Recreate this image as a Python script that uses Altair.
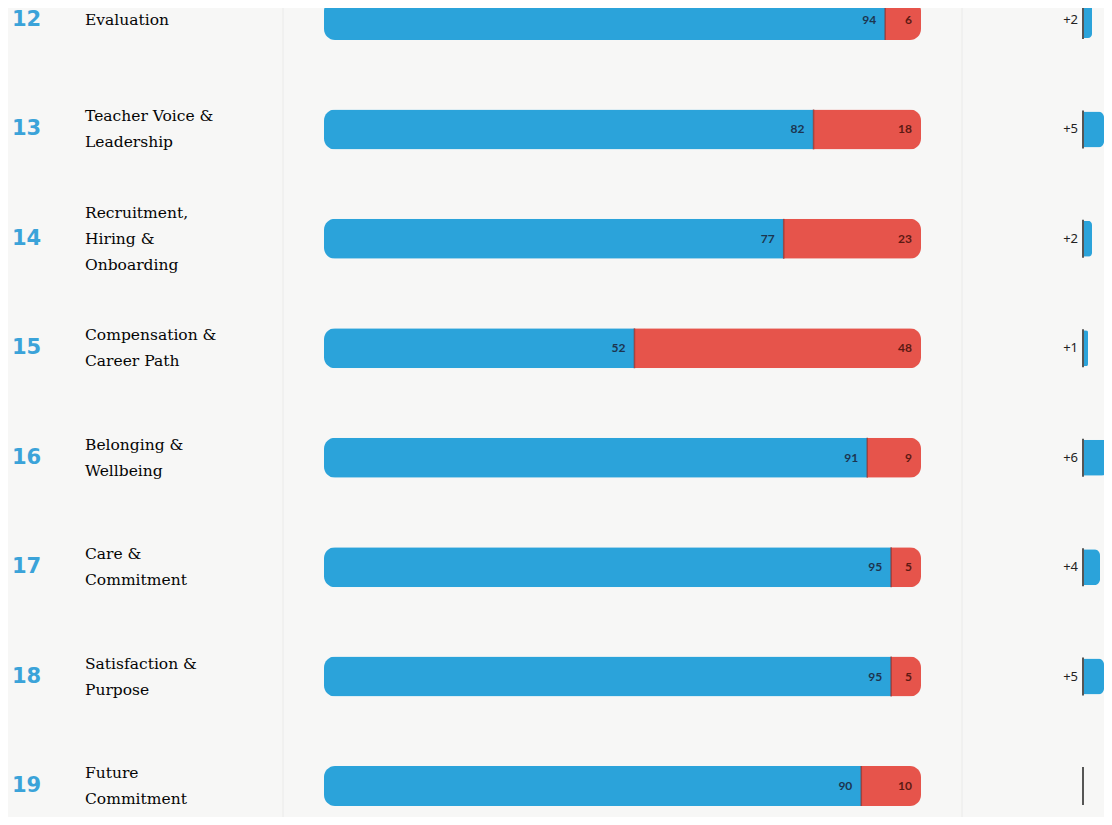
import altair as alt
import pandas as pd

rows = [12, 13, 14, 15, 16, 17, 18, 19]
names = [
    "Evaluation",
    "Teacher Voice &\nLeadership",
    "Recruitment,\nHiring &\nOnboarding",
    "Compensation &\nCareer Path",
    "Belonging &\nWellbeing",
    "Care &\nCommitment",
    "Satisfaction &\nPurpose",
    "Future\nCommitment",
]
agree = [94, 82, 77, 52, 91, 95, 95, 90]
disagree = [6, 18, 23, 48, 9, 5, 5, 10]
change = [2, 5, 2, 1, 6, 4, 5, None]

BLUE = "#2ba3da"
RED = "#e6544b"

df = pd.DataFrame({"row": rows, "name": names, "agree": agree,
                   "disagree": disagree, "change": change})

yscale = alt.Scale(type="point", domain=rows, range=[12, 778], padding=0)
Y = alt.Y("row:O", scale=yscale, axis=None)
xmain = alt.Scale(domain=[0, 100], range=[316, 913])
xchg = alt.Scale(domain=[0, 10], range=[1076, 1116])

base = alt.Chart(df)

sep = base.mark_rule(color="#f0f0ef", strokeWidth=1).encode(
    x=alt.value(275), y=alt.value(0), y2=alt.value(809))
sep2 = base.mark_rule(color="#f0f0ef", strokeWidth=1).encode(
    x=alt.value(954), y=alt.value(0), y2=alt.value(809))

num = base.mark_text(align="left", baseline="middle", font="DejaVu Sans",
                     fontWeight="bold", fontSize=21, color="#3ba3d9").encode(
    x=alt.value(4), y=Y, text="row:N")

name_base = base.transform_calculate(
    nl="length(split(datum.name, '\\n'))")


def name_layer(n, dy):
    return name_base.transform_filter(f"datum.nl == {n}").mark_text(
        align="left", baseline="middle", font="DejaVu Serif", fontSize=15.5,
        lineBreak="\n", lineHeight=26, dy=dy, color="#050505").encode(
        x=alt.value(77), y=Y, text="name:N")


labels = [name_layer(1, 0), name_layer(2, -13), name_layer(3, -26)]

bars = base.transform_fold(["agree", "disagree"], as_=["resp", "val"]).transform_calculate(
    ord="datum.resp == 'agree' ? 0 : 1").mark_bar(size=40, cornerRadius=11).encode(
    x=alt.X("val:Q", stack="zero", scale=xmain, axis=None),
    y=Y,
    color=alt.Color("resp:N", scale=alt.Scale(domain=["agree", "disagree"], range=[BLUE, RED]), legend=None),
    order=alt.Order("ord:Q"))

junction = base.mark_tick(color="#8e2a24", thickness=1.5, size=40, orient="vertical").encode(
    x=alt.X("agree:Q", scale=xmain, axis=None), y=Y)

agree_txt = base.mark_text(align="right", baseline="middle", dx=-9, font="Lato",
                           fontSize=12, fontWeight="bold", color="#1d3550").encode(
    x=alt.X("agree:Q", scale=xmain, axis=None), y=Y, text="agree:Q")

dis_txt = base.transform_calculate(end="100").mark_text(
    align="right", baseline="middle", dx=-9, font="Lato", fontSize=12,
    fontWeight="bold", color="#5c1a14").encode(
    x=alt.X("end:Q", scale=xmain, axis=None), y=Y, text="disagree:Q")

chg_bar = base.transform_filter("isValid(datum.change)").mark_bar(
    size=36, cornerRadiusEnd=6, color=BLUE).encode(
    x=alt.X("change:Q", scale=xchg, axis=None), y=Y)

tick = base.mark_tick(color="#111111", thickness=2, size=38, orient="vertical").encode(
    x=alt.value(1075), y=Y)

chg_txt = base.transform_filter("isValid(datum.change)").transform_calculate(
    lab="'+' + datum.change").mark_text(
    align="right", baseline="middle", font="Noto Sans", fontSize=13,
    color="#222222").encode(x=alt.value(1070), y=Y, text="lab:N")

chart = alt.layer(sep, sep2, bars, junction, agree_txt, dis_txt, chg_bar, tick, chg_txt, num,
                  *labels).resolve_scale(
    x="independent").properties(
    width=1096, height=809, background="#f7f7f6",
    autosize=alt.AutoSizeParams(type="none"), padding=0).configure_view(stroke=None)

chart.save("out.html", embed_options={"renderer": "svg", "actions": False})
